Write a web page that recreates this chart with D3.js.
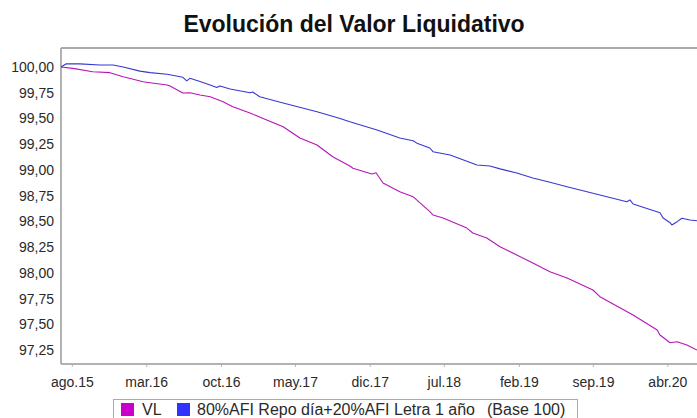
<!DOCTYPE html>
<html><head><meta charset="utf-8">
<script src="https://cdn.jsdelivr.net/npm/d3@7"></script>
<style>body{margin:0;background:#fff;}svg{display:block;font-family:"Liberation Sans",Arial,sans-serif;}</style>
</head><body><svg id="c" width="697" height="418"></svg>
<script>
const title = "Evolución del Valor Liquidativo";
const seriesNames = ["VL", "80%AFI Repo día+20%AFI Letra 1 año"];
const legendNote = "(Base 100)";
const seriesColors = ["#cc00cc", "#3333ff"];
const lineColors = ["#b814b8", "#3838d0"];
const yTicks = [100.00, 99.75, 99.50, 99.25, 99.00, 98.75, 98.50, 98.25, 98.00, 97.75, 97.50, 97.25];
const xTickDates = ["2015-08-01","2016-03-01","2016-10-01","2017-05-01","2017-12-01","2018-07-01","2019-02-01","2019-09-01","2020-04-01"];
const xTickLabels = ["ago.15","mar.16","oct.16","may.17","dic.17","jul.18","feb.19","sep.19","abr.20"];

const vlDates = ["2015-07-01","2015-08-04","2015-09-30","2015-11-18","2015-12-26","2016-02-21","2016-03-12","2016-04-30","2016-05-08","2016-06-14","2016-07-04","2016-08-02","2016-08-31","2016-10-07","2016-11-04","2016-12-23","2017-02-09","2017-03-28","2017-05-15","2017-07-03","2017-08-17","2017-10-05","2017-10-14","2017-12-07","2017-12-19","2018-01-08","2018-02-25","2018-04-04","2018-05-22","2018-05-31","2018-06-29","2018-09-05","2018-09-22","2018-11-01","2018-12-09","2019-03-13","2019-05-01","2019-06-19","2019-09-01","2019-09-21","2019-12-25","2020-03-03","2020-03-11","2020-04-09","2020-04-29","2020-05-27","2020-06-25"];
const vlValues = [100.00,99.987,99.954,99.945,99.906,99.857,99.847,99.825,99.815,99.747,99.75,99.728,99.711,99.663,99.614,99.553,99.485,99.42,99.31,99.242,99.128,99.038,99.016,98.96,98.973,98.873,98.788,98.74,98.594,98.562,98.533,98.435,98.387,98.338,98.254,98.095,98.011,97.95,97.833,97.768,97.59,97.444,97.396,97.321,97.33,97.298,97.25];

const bmDates = ["2015-07-01","2015-07-15","2015-08-24","2015-10-20","2015-11-27","2015-12-26","2016-02-12","2016-03-12","2016-04-30","2016-06-14","2016-06-25","2016-07-04","2016-08-02","2016-08-31","2016-09-19","2016-09-28","2016-10-27","2016-12-23","2016-12-31","2017-01-20","2017-03-28","2017-07-03","2017-09-07","2017-10-05","2017-12-22","2018-02-25","2018-04-04","2018-04-15","2018-05-22","2018-05-31","2018-07-19","2018-10-04","2018-11-10","2018-12-09","2019-01-26","2019-03-13","2019-05-01","2019-06-19","2019-09-21","2019-12-07","2019-12-16","2019-12-25","2020-03-11","2020-03-20","2020-04-09","2020-04-14","2020-04-29","2020-05-13","2020-06-05","2020-06-25"];
const bmValues = [100.00,100.03,100.03,100.02,100.02,100.00,99.96,99.945,99.93,99.90,99.865,99.89,99.86,99.825,99.80,99.815,99.786,99.75,99.757,99.711,99.65,99.566,99.50,99.468,99.388,99.31,99.284,99.26,99.213,99.177,99.145,99.048,99.038,99.01,98.97,98.921,98.88,98.837,98.756,98.691,98.708,98.669,98.584,98.533,98.487,98.465,98.497,98.53,98.513,98.506];

const parse = d3.utcParse("%Y-%m-%d");
const svg = d3.select("#c");
const L = 61, T = 48, R = 697, B = 364;
const x = d3.scaleUtc().domain([parse("2015-07-01"), parse("2020-06-25")]).range([L, R]);
const y = d3.scaleLinear().domain([97.25, 100]).range([350, 67]);
const fmt = v => d3.format(".2f")(v).replace(".", ",");

svg.append("text").attr("x", 354).attr("y", 32).attr("text-anchor", "middle")
  .attr("font-size", 23).attr("font-weight", "bold").attr("fill", "#111").text(title);

const yAxis = d3.axisLeft(y).tickValues(yTicks).tickFormat(fmt).tickSize(0).tickPadding(7);
const gy = svg.append("g").attr("transform", `translate(${L},0)`).call(yAxis);
gy.select(".domain").remove();
gy.selectAll("text").attr("font-size", 14).attr("fill", "#2a2a2a").attr("font-family", "Liberation Sans, Arial, sans-serif");

const xAxis = d3.axisBottom(x).tickValues(xTickDates.map(parse)).tickFormat((d, i) => xTickLabels[i]).tickSizeInner(3).tickSizeOuter(0).tickPadding(10);
const gx = svg.append("g").attr("transform", `translate(0,${B})`).call(xAxis);
gx.select(".domain").remove();
gx.selectAll("line").attr("stroke", "#bbb");
gx.selectAll("text").attr("font-size", 14).attr("fill", "#2a2a2a").attr("font-family", "Liberation Sans, Arial, sans-serif");

svg.append("line").attr("x1", L).attr("x2", R).attr("y1", T).attr("y2", T).attr("stroke", "#aaa").attr("stroke-width", 2);
svg.append("line").attr("x1", L).attr("x2", L).attr("y1", T).attr("y2", B).attr("stroke", "#999").attr("stroke-width", 1.5);
svg.append("line").attr("x1", L).attr("x2", R).attr("y1", B).attr("y2", B).attr("stroke", "#999").attr("stroke-width", 1.5);

const line = d3.line().x(d => x(d[0])).y(d => y(d[1]));
const series = [
  {pts: bmDates.map((d, i) => [parse(d), bmValues[i]]), color: lineColors[1]},
  {pts: vlDates.map((d, i) => [parse(d), vlValues[i]]), color: lineColors[0]}
];
series.forEach(s => {
  svg.append("path").datum(s.pts).attr("d", line).attr("fill", "none")
    .attr("stroke", s.color).attr("stroke-width", 1.1).attr("stroke-linejoin", "round");
});

const lg = svg.append("g");
lg.append("rect").attr("x", 113.5).attr("y", 399.5).attr("width", 464).attr("height", 24).attr("fill", "#fff").attr("stroke", "#aaa");
const items = [
  {sx: 121, tx: 142, color: seriesColors[0], label: seriesNames[0]},
  {sx: 177, tx: 197, color: seriesColors[1], label: seriesNames[1]}
];
items.forEach(it => {
  lg.append("rect").attr("x", it.sx).attr("y", 403).attr("width", 13).attr("height", 13).attr("fill", it.color);
  lg.append("text").attr("x", it.tx).attr("y", 415).attr("font-size", 16).attr("fill", "#2a2a2a").text(it.label);
});
lg.append("text").attr("x", 487).attr("y", 415).attr("font-size", 16).attr("fill", "#2a2a2a").text(legendNote);
</script></body></html>
